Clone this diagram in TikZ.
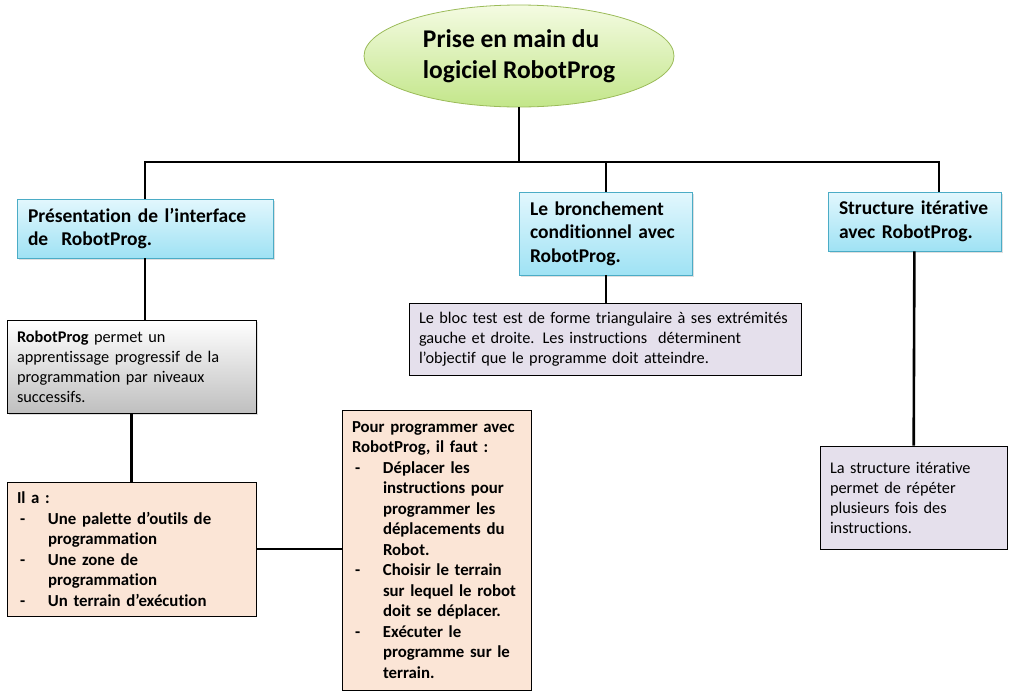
\documentclass[tikz,border=0pt]{standalone}
\usepackage{fontspec}
\setmainfont{Carlito}[Ligatures=NoCommon]
\usepackage{tikz}
\usetikzlibrary{
  shapes.geometric,
  shadows,
  positioning
}
\definecolor{vertbord}{HTML}{9BBB59}
\definecolor{verthaut}{HTML}{F4FBE2}
\definecolor{vertbas}{HTML}{C3E68A}
\definecolor{bleubord}{HTML}{4BACC6}
\definecolor{bleuhaut}{HTML}{E2F7FD}
\definecolor{bleubas}{HTML}{9FE2F4}
\definecolor{peche}{HTML}{FBE5D6}
\definecolor{lavande}{HTML}{E5E0EC}
\newcommand{\tiret}{\makebox[31pt][l]{\hspace{3pt}-}}
\newcommand{\suite}{\hspace*{31pt}}

\begin{document}
\begin{tikzpicture}[x=1pt,y=-1pt,
      racine/.style={
         ellipse,
         minimum width=310pt,
         minimum height=102pt,
         draw=vertbord,
         line width=0.8pt,
         top color=verthaut,
         bottom color=vertbas,
         align=left,
         font=\fontsize{25.5}{31}\selectfont\bfseries
      },
      theme/.style={
         rectangle,
         draw=bleubord,
         line width=0.8pt,
         top color=bleuhaut,
         bottom color=bleubas,
         drop shadow={opacity=0.25,shadow xshift=1.5pt,shadow yshift=-1.5pt},
         inner xsep=11pt,
         align=left,
         font=\fontsize{19.5}{23.5}\selectfont\bfseries
      },
      resume/.style={
         rectangle,
         draw=black,
         line width=0.8pt,
         top color=white,
         bottom color=black!25,
         drop shadow={opacity=0.25,shadow xshift=1.5pt,shadow yshift=-1.5pt},
         inner xsep=10pt,
         align=left,
         font=\fontsize{16.3}{20}\selectfont
      },
      liste/.style={
         rectangle,
         draw=black,
         line width=0.8pt,
         fill=peche,
         inner xsep=10pt,
         align=left,
         font=\fontsize{16.8}{20.5}\selectfont\bfseries
      },
      note/.style={
         rectangle,
         draw=black,
         line width=0.8pt,
         fill=lavande,
         inner xsep=10pt,
         align=left,
         font=\fontsize{16.3}{20}\selectfont
      },
      lien/.style={line width=2.6pt,draw=black}
    ]
    \useasboundingbox (0,0) rectangle (1012,694);

    % racine
    \node (racine) [racine] at (519,56) {Prise en main du\\logiciel RobotProg};

    % trois themes
    \node (pres) [theme, minimum width=256pt, minimum height=59pt, text width=234pt] at (145,228.5)
       {Présentation de l’interface\\de\ \ RobotProg.};
    \node (cond) [theme, minimum width=173pt, minimum height=83pt, text width=151pt] at (605.5,233.5)
       {Le bronchement\\conditionnel avec\\RobotProg.};
    \node (iter) [theme, minimum width=173pt, minimum height=59pt, text width=151pt] at (914.5,221.5)
       {Structure itérative\\avec RobotProg.};

    % details
    \node (resume) [resume, minimum width=249pt, minimum height=93pt, text width=229pt] at (131.5,366.5)
       {\textbf{RobotProg} permet un\\apprentissage progressif de la\\programmation par niveaux\\successifs.};
    \node (outils) [liste, minimum width=249pt, minimum height=134pt, text width=229pt] at (131.5,549)
       {Il a :\\
        \tiret Une palette d’outils de\\\suite programmation\\
        \tiret Une zone de\\\suite programmation\\
        \tiret Un terrain d’exécution};
    \node (prog) [liste, minimum width=189pt, minimum height=280pt, text width=169pt] at (436.5,550)
       {Pour programmer avec\\RobotProg, il faut :\\
        \tiret Déplacer les\\\suite instructions pour\\\suite programmer les\\\suite déplacements du\\\suite Robot.\\
        \tiret Choisir le terrain\\\suite sur lequel le robot\\\suite doit se déplacer.\\
        \tiret Exécuter le\\\suite programme sur le\\\suite terrain.};
    \node (bloc) [note, minimum width=392pt, minimum height=72pt, text width=372pt] at (605,339)
       {Le bloc test est de forme triangulaire à ses extrémités\\gauche et droite. Les instructions\ \ déterminent\\l’objectif que le programme doit atteindre.};
    \node (boucle) [note, minimum width=187pt, minimum height=103pt, text width=167pt] at (913.5,497.5)
       {La structure itérative\\permet de répéter\\plusieurs fois des\\instructions.};

    % liens
    \coordinate (busG) at (145,162);
    \coordinate (busM) at (606,162);
    \coordinate (busD) at (939,162);
    \draw [lien] (racine) -- (racine |- busG);
    \draw [lien] (busG |- pres.north) -- (busG) -- (busD) -- (busD |- iter.north);
    \draw [lien] (busM) -- (busM |- cond.north);
    \draw [lien] (pres.south) -- (pres.south |- resume.north);
    \draw [lien] (resume) -- (outils);
    \draw [lien] (outils.east) -- (outils.east -| prog.west);
    \draw [lien] (busM |- cond.south) -- (busM |- bloc.north);
    \draw [lien] (iter) -- (boucle);
\end{tikzpicture}
\end{document}
